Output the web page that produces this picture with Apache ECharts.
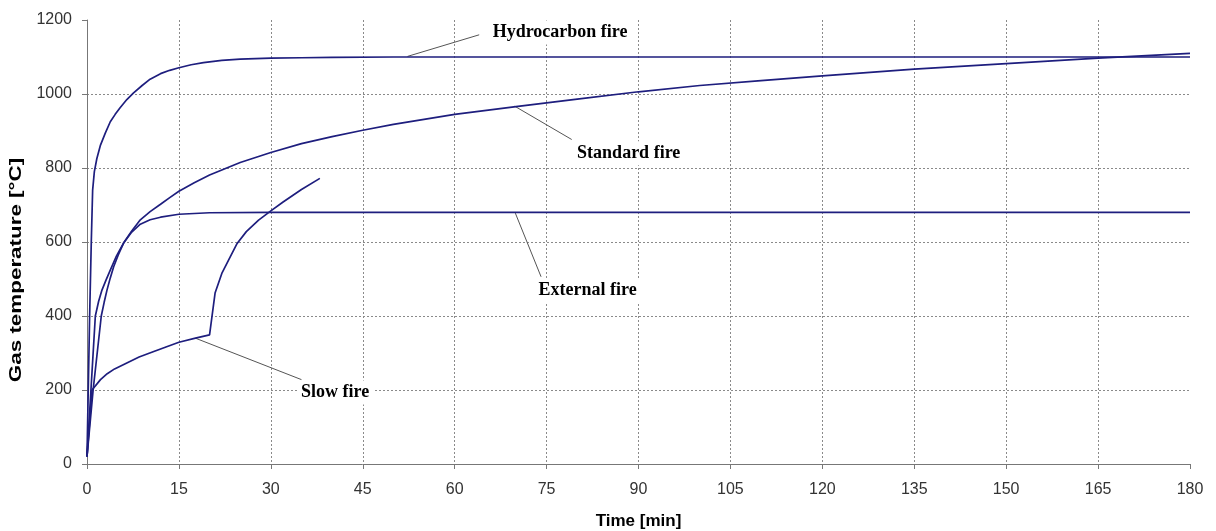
<!DOCTYPE html>
<html>
<head>
<meta charset="utf-8">
<script src="https://cdn.jsdelivr.net/npm/echarts@6/dist/echarts.min.js"></script>
<style>
html,body{margin:0;padding:0;background:#fff;}
#chart{width:1216px;height:531px;}
</style>
</head>
<body>
<div id="chart"></div>
<script>
// ---- data ----
const xTicks = [0, 15, 30, 45, 60, 75, 90, 105, 120, 135, 150, 165, 180];
const yTicks = [0, 200, 400, 600, 800, 1000, 1200];

const hydroT = [0, 0.43, 0.7, 0.92, 1.2, 1.6, 2.2, 3, 3.8, 4.6, 5.4, 6.5, 7.6, 9, 10.3, 12, 13.5, 15, 17, 19, 22, 25, 30, 35, 40, 50, 60, 180];
const hydroV = [20, 400, 600, 740, 790, 825, 862, 895, 925, 945, 963, 985, 1003, 1023, 1040, 1055, 1064, 1071, 1079, 1085, 1091, 1094, 1097, 1098, 1099, 1100, 1100, 1100];

const standardT = [0, 1, 2.33, 2.8, 3.26, 3.8, 4.35, 5.1, 6, 7.3, 8.7, 10.3, 12, 13.5, 15, 17.5, 20, 25, 30, 35, 40, 45, 50, 60, 70, 80, 90, 100, 110, 120, 135, 150, 165, 180];
const standardV = [20, 200, 400, 437, 470, 503, 533, 565, 598, 630, 660, 682, 702, 720, 737, 760, 781, 815, 842, 866, 885, 902, 918, 945, 966, 986, 1006, 1023, 1036, 1049, 1067, 1082, 1097, 1110];

const externalT = [0, 1.36, 1.9, 2.44, 3.1, 3.8, 4.8, 6, 7.3, 8.7, 10.3, 12, 15, 20, 30, 180];
const externalV = [20, 400, 440, 470, 497, 524, 562, 598, 627, 648, 660, 667, 675, 679, 680, 680];

const slowT = [0, 0.82, 2.2, 3.3, 4.5, 6.5, 8.5, 10.9, 13, 15, 17.7, 20, 20.9, 22, 23.1, 24.5, 26, 28, 30, 32, 35, 38];
const slowV = [20, 200, 228, 244, 257, 273, 289, 304, 317, 329, 340, 349, 462, 515, 551, 596, 628, 659, 684, 708, 742, 772];

const labelNames = ['Hydrocarbon fire', 'Standard fire', 'External fire', 'Slow fire'];
const labelT = [77.2, 88.4, 81.7, 40.5];
const labelV = [1166, 840, 469, 193];
const leaderFrom = [[52.3, 1101.6], [69.8, 967], [69.9, 678], [17.7, 340]];
const leaderTo = [[64.0, 1160], [79.1, 877], [74.1, 506], [35.0, 228]];

const xTitle = 'Time [min]';
const yTitle = 'Gas temperature [°C]';

// ---- build ----
const pairs = (xs, ys) => xs.map((x, i) => [x, ys[i]]);
const curveColor = '#1e1e7e';
const gridColor = '#8a8a8a';

function curve(name, xs, ys) {
  return {
    name, type: 'line', data: pairs(xs, ys), showSymbol: false, symbol: 'none',
    lineStyle: { color: curveColor, width: 1.7 }, z: 3, silent: true
  };
}

const chart = echarts.init(document.getElementById('chart'), null, { renderer: 'canvas' });
chart.setOption({
  animation: false,
  backgroundColor: '#ffffff',
  grid: { left: 87, right: 26, top: 20, bottom: 67, containLabel: false, outerBoundsMode: 'none' },
  xAxis: {
    type: 'value', min: xTicks[0], max: xTicks[xTicks.length - 1], interval: 15,
    name: xTitle, nameLocation: 'middle', nameGap: 49,
    nameTextStyle: { fontFamily: 'Liberation Sans', fontWeight: 'bold', fontSize: 17, color: '#000' },
    axisLine: { show: true, lineStyle: { color: '#777', width: 1 } },
    axisTick: { show: true, length: 5, lineStyle: { color: '#777' } },
    axisLabel: { fontFamily: 'Liberation Sans', fontSize: 16, color: '#333', margin: 18, formatter: v => String(v) },
    splitLine: { show: true, showMinLine: false, showMaxLine: false, lineStyle: { color: gridColor, type: [2, 2], width: 1 } }
  },
  yAxis: {
    type: 'value', min: yTicks[0], max: yTicks[yTicks.length - 1], interval: 200,
    axisLine: { show: true, lineStyle: { color: '#777', width: 1 } },
    axisTick: { show: true, length: 5, lineStyle: { color: '#777' } },
    axisLabel: { fontFamily: 'Liberation Sans', fontSize: 16, color: '#333', margin: 15, formatter: v => String(v) },
    splitLine: { show: true, showMinLine: false, showMaxLine: false, lineStyle: { color: gridColor, type: [2, 2], width: 1 } }
  },
  graphic: [{
    type: 'text', x: 17, y: 270, rotation: Math.PI / 2, scaleX: 1.4,
    style: {
      text: yTitle, fontFamily: 'Liberation Sans', fontWeight: 'bold', fontSize: 16,
      fill: '#000', align: 'center', verticalAlign: 'middle'
    }
  }],
  series: [
    {
      type: 'lines', coordinateSystem: 'cartesian2d', silent: true, z: 2,
      symbol: 'none',
      lineStyle: { color: '#555', width: 1, opacity: 1 },
      data: leaderFrom.map((p, i) => ({ coords: [p, leaderTo[i]] }))
    },
    curve('Hydrocarbon fire', hydroT, hydroV),
    curve('Standard fire', standardT, standardV),
    curve('External fire', externalT, externalV),
    curve('Slow fire', slowT, slowV),
    {
      type: 'scatter', silent: true, z: 4, symbolSize: 1,
      itemStyle: { color: '#ffffff', opacity: 1 },
      data: labelNames.map((n, i) => ({ name: n, value: [labelT[i], labelV[i]] })),
      label: {
        show: true, position: 'inside', formatter: '{b}',
        fontFamily: 'Liberation Serif', fontWeight: 'bold', fontSize: 18, color: '#000000',
        textBorderWidth: 0, backgroundColor: '#fff', padding: [3, 4]
      }
    }
  ]
});
</script>
</body>
</html>
